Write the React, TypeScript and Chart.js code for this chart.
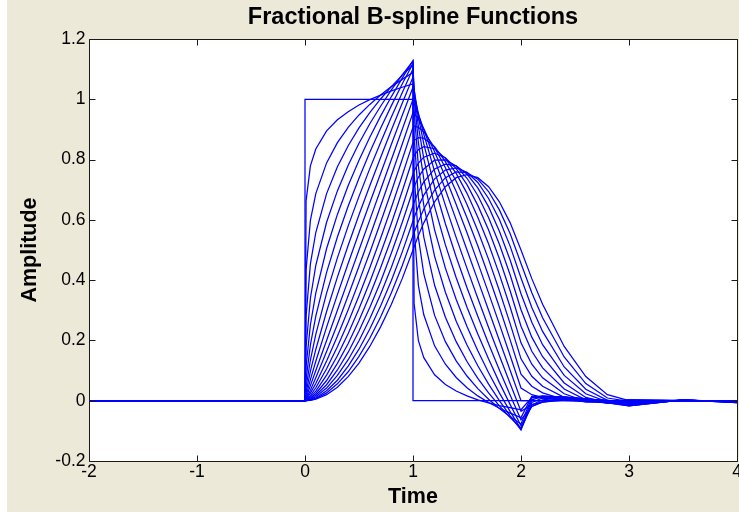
import React, { useEffect, useRef } from 'react';
import { Chart, registerables } from 'chart.js';

Chart.register(...registerables);

// Sample times shared by the fractional B-spline curves
const TIMES = [-2, 0, 0.01, 0.05, 0.1, 0.2, 0.3, 0.4, 0.5, 0.6, 0.7, 0.8, 0.9, 1.0, 1.01, 1.05, 1.1, 1.2, 1.3, 1.4, 1.5, 1.6, 1.7, 1.8, 1.9, 2.0, 2.1, 2.2, 2.4, 2.6, 2.8, 3.0, 3.5, 4.0];

// Degree 0 (box) curve
const BOX_TIMES = [-2, 0, 0, 1, 1, 4];
const BOX_VALUES = [0, 0, 1, 1, 0, 0];

// Degrees 0.1 ... 2.0
const alpha01 = [0, 0, 0.663, 0.779, 0.835, 0.895, 0.932, 0.959, 0.981, 0.999, 1.014, 1.028, 1.040, 1.051, 0.323, 0.199, 0.143, 0.086, 0.054, 0.032, 0.016, 0.003, -0.007, -0.016, -0.023, -0.030, 0.011, 0.009, 0.004, 0.000, -0.005, -0.008, 0.001, -0.003];
const alpha02 = [0, 0, 0.434, 0.598, 0.687, 0.789, 0.856, 0.907, 0.948, 0.983, 1.014, 1.042, 1.066, 1.089, 0.571, 0.382, 0.285, 0.182, 0.121, 0.077, 0.043, 0.016, -0.006, -0.025, -0.041, -0.056, 0.014, 0.014, 0.008, 0.001, -0.007, -0.014, 0.002, -0.005];
const alpha03 = [0, 0, 0.280, 0.454, 0.558, 0.687, 0.776, 0.846, 0.905, 0.956, 1.001, 1.042, 1.080, 1.114, 0.754, 0.541, 0.421, 0.283, 0.196, 0.132, 0.082, 0.040, 0.005, -0.026, -0.053, -0.077, 0.010, 0.016, 0.012, 0.003, -0.007, -0.017, 0.003, -0.006];
const alpha04 = [0, 0, 0.179, 0.340, 0.449, 0.592, 0.696, 0.781, 0.854, 0.919, 0.977, 1.031, 1.081, 1.127, 0.882, 0.673, 0.543, 0.383, 0.277, 0.196, 0.130, 0.074, 0.026, -0.017, -0.056, -0.091, 0.003, 0.014, 0.013, 0.005, -0.006, -0.017, 0.003, -0.006];
const alpha05 = [0, 0, 0.113, 0.252, 0.357, 0.505, 0.618, 0.714, 0.798, 0.874, 0.944, 1.009, 1.070, 1.128, 0.965, 0.778, 0.648, 0.479, 0.360, 0.264, 0.185, 0.116, 0.055, 0.000, -0.050, -0.097, -0.006, 0.009, 0.013, 0.006, -0.004, -0.016, 0.003, -0.006];
const alpha06 = [0, 0, 0.071, 0.185, 0.281, 0.426, 0.543, 0.646, 0.738, 0.824, 0.904, 0.979, 1.051, 1.119, 1.013, 0.856, 0.735, 0.567, 0.440, 0.336, 0.246, 0.166, 0.093, 0.026, -0.036, -0.094, -0.014, 0.003, 0.011, 0.007, -0.002, -0.013, 0.003, -0.005];
const alpha07 = [0, 0, 0.044, 0.135, 0.220, 0.357, 0.474, 0.580, 0.678, 0.770, 0.857, 0.941, 1.022, 1.101, 1.034, 0.909, 0.803, 0.644, 0.517, 0.408, 0.310, 0.221, 0.138, 0.060, -0.013, -0.083, -0.019, -0.002, 0.008, 0.006, 0.000, -0.010, 0.002, -0.004];
const alpha08 = [0, 0, 0.027, 0.098, 0.170, 0.296, 0.410, 0.516, 0.617, 0.713, 0.807, 0.898, 0.987, 1.074, 1.034, 0.941, 0.852, 0.709, 0.587, 0.477, 0.375, 0.280, 0.189, 0.102, 0.018, -0.063, -0.019, -0.005, 0.005, 0.005, 0.001, -0.006, 0.002, -0.003];
const alpha09 = [0, 0, 0.016, 0.070, 0.131, 0.244, 0.352, 0.456, 0.557, 0.657, 0.754, 0.851, 0.946, 1.040, 1.018, 0.953, 0.884, 0.761, 0.648, 0.541, 0.439, 0.340, 0.243, 0.149, 0.056, -0.035, -0.013, -0.005, 0.002, 0.003, 0.001, -0.003, 0.001, -0.001];
const alpha10 = [0, 0, 0.01, 0.05, 0.1, 0.2, 0.3, 0.4, 0.5, 0.6, 0.7, 0.8, 0.9, 1.0, 0.99, 0.95, 0.9, 0.8, 0.7, 0.6, 0.5, 0.4, 0.3, 0.2, 0.1, 0, 0, 0, 0, 0, 0, 0, 0, 0];
const alpha11 = [0, 0, 0.006, 0.035, 0.076, 0.163, 0.254, 0.349, 0.446, 0.545, 0.646, 0.748, 0.851, 0.956, 0.953, 0.934, 0.902, 0.826, 0.742, 0.651, 0.557, 0.458, 0.357, 0.254, 0.149, 0.042, 0.020, 0.010, 0.001, -0.002, -0.002, 0.002, 0, 0];
const alpha12 = [0, 0, 0.004, 0.025, 0.057, 0.132, 0.214, 0.302, 0.395, 0.492, 0.592, 0.694, 0.800, 0.908, 0.911, 0.907, 0.892, 0.840, 0.773, 0.694, 0.607, 0.514, 0.414, 0.310, 0.201, 0.088, 0.048, 0.026, 0.004, -0.004, -0.003, 0.003, 0, 0];
const alpha13 = [0, 0, 0.002, 0.017, 0.043, 0.106, 0.179, 0.260, 0.348, 0.441, 0.539, 0.641, 0.747, 0.857, 0.863, 0.873, 0.871, 0.843, 0.793, 0.728, 0.651, 0.564, 0.469, 0.365, 0.255, 0.139, 0.081, 0.048, 0.011, -0.004, -0.005, 0.002, 0, 0];
const alpha14 = [0, 0, 0.001, 0.012, 0.032, 0.085, 0.149, 0.223, 0.305, 0.394, 0.489, 0.589, 0.695, 0.805, 0.813, 0.833, 0.843, 0.836, 0.804, 0.754, 0.688, 0.609, 0.520, 0.419, 0.310, 0.192, 0.121, 0.076, 0.023, -0.002, -0.007, 0.002, 0, 0];
const alpha15 = [0, 0, 0.001, 0.008, 0.024, 0.067, 0.124, 0.190, 0.266, 0.350, 0.441, 0.538, 0.642, 0.752, 0.762, 0.788, 0.808, 0.821, 0.806, 0.770, 0.717, 0.648, 0.566, 0.471, 0.364, 0.247, 0.164, 0.109, 0.039, 0.003, -0.008, 0.000, 0, 0];
const alpha16 = [0, 0, 0, 0.006, 0.018, 0.053, 0.102, 0.161, 0.231, 0.309, 0.395, 0.490, 0.591, 0.699, 0.710, 0.741, 0.769, 0.798, 0.799, 0.779, 0.738, 0.681, 0.607, 0.519, 0.417, 0.302, 0.211, 0.146, 0.059, 0.011, -0.007, -0.001, 0, 0];
const alpha17 = [0, 0, 0, 0.004, 0.013, 0.042, 0.084, 0.136, 0.199, 0.272, 0.353, 0.443, 0.541, 0.647, 0.658, 0.693, 0.726, 0.769, 0.785, 0.779, 0.752, 0.706, 0.643, 0.562, 0.466, 0.355, 0.260, 0.186, 0.084, 0.023, -0.004, -0.003, 0, 0];
const alpha18 = [0, 0, 0, 0.003, 0.009, 0.033, 0.068, 0.115, 0.171, 0.238, 0.314, 0.399, 0.493, 0.596, 0.607, 0.644, 0.682, 0.736, 0.765, 0.772, 0.758, 0.724, 0.671, 0.601, 0.512, 0.407, 0.309, 0.230, 0.112, 0.038, 0.001, -0.003, 0, 0];
const alpha19 = [0, 0, 0, 0.002, 0.007, 0.026, 0.056, 0.096, 0.147, 0.207, 0.278, 0.358, 0.448, 0.547, 0.557, 0.595, 0.636, 0.699, 0.740, 0.759, 0.757, 0.735, 0.694, 0.633, 0.554, 0.455, 0.358, 0.275, 0.145, 0.057, 0.009, -0.002, 0, 0];
const alpha20 = [0, 0, 0, 0.001, 0.005, 0.02, 0.045, 0.08, 0.125, 0.18, 0.245, 0.32, 0.405, 0.5, 0.51, 0.548, 0.59, 0.66, 0.71, 0.74, 0.75, 0.74, 0.71, 0.66, 0.59, 0.5, 0.405, 0.32, 0.18, 0.08, 0.02, 0, 0, 0];

const CURVES = [alpha01, alpha02, alpha03, alpha04, alpha05, alpha06, alpha07, alpha08, alpha09, alpha10,
  alpha11, alpha12, alpha13, alpha14, alpha15, alpha16, alpha17, alpha18, alpha19, alpha20];

const X_TICKS = [-2, -1, 0, 1, 2, 3, 4];
const X_TICK_LABELS = ['-2', '-1', '0', '1', '2', '3', '4'];
const Y_TICKS = [-0.2, 0, 0.2, 0.4, 0.6, 0.8, 1, 1.2];
const Y_TICK_LABELS = ['-0.2', '0', '0.2', '0.4', '0.6', '0.8', '1', '1.2'];

const TITLE = 'Fractional B-spline Functions';
const X_TITLE = 'Time';
const Y_TITLE = 'Amplitude';

const FONT = "'Liberation Sans', Arial, Helvetica, sans-serif";
const FIG_BG = '#ECE9D8';
const LINE_COLOR = '#0000FF';
const AXIS_COLOR = '#1a1a1a';

const framePlugin = {
  id: 'matlabFrame',
  beforeDraw(chart: any) {
    const { ctx, chartArea: a } = chart;
    ctx.save();
    ctx.fillStyle = FIG_BG;
    ctx.fillRect(7, 0, chart.width - 7, 512);
    ctx.fillStyle = '#FFFFFF';
    ctx.fillRect(a.left, a.top, a.right - a.left, a.bottom - a.top);
    ctx.restore();
  },
  afterDatasetsDraw(chart: any) {
    const { ctx, chartArea: a, scales } = chart;
    const L = Math.round(a.left) + 0.5;
    const R = Math.round(a.right) + 0.5;
    const T = Math.round(a.top) + 0.5;
    const B = Math.round(a.bottom) + 0.5;
    const len = 6;
    ctx.save();
    ctx.strokeStyle = AXIS_COLOR;
    ctx.lineWidth = 1;
    ctx.beginPath();
    ctx.rect(L, T, R - L, B - T);
    X_TICKS.forEach((v) => {
      const x = Math.round(scales.x.getPixelForValue(v)) + 0.5;
      ctx.moveTo(x, B);
      ctx.lineTo(x, B - len);
      ctx.moveTo(x, T);
      ctx.lineTo(x, T + len);
    });
    Y_TICKS.forEach((v) => {
      const y = Math.round(scales.y.getPixelForValue(v)) + 0.5;
      ctx.moveTo(L, y);
      ctx.lineTo(L + len, y);
      ctx.moveTo(R, y);
      ctx.lineTo(R - len, y);
    });
    ctx.stroke();
    ctx.restore();
  },
};

export default function App() {
  const canvasRef = useRef<HTMLCanvasElement | null>(null);

  useEffect(() => {
    const canvas = canvasRef.current;
    if (!canvas) return;

    const lineStyle = {
      borderColor: LINE_COLOR,
      borderWidth: 1.25,
      pointRadius: 0,
      pointHoverRadius: 0,
      tension: 0,
      fill: false,
    };

    const datasets: any[] = [
      {
        label: 'alpha 0',
        data: BOX_TIMES.map((t, i) => ({ x: t, y: BOX_VALUES[i] })),
        ...lineStyle,
      },
      ...CURVES.map((vals, k) => ({
        label: 'alpha ' + ((k + 1) / 10).toFixed(1),
        data: TIMES.map((t, i) => ({ x: t, y: vals[i] })),
        ...lineStyle,
      })),
    ];

    const chart = new Chart(canvas, {
      type: 'line',
      data: { datasets },
      plugins: [framePlugin],
      options: {
        responsive: false,
        animation: false,
        devicePixelRatio: 1,
        layout: { padding: { left: 0, right: 23, top: 0, bottom: 0 } },
        plugins: {
          legend: { display: false },
          tooltip: { enabled: false },
          title: {
            display: true,
            text: TITLE,
            fullSize: false,
            color: '#000',
            font: { family: FONT, size: 23.5, weight: 'bold' },
            padding: { top: 3.8, bottom: 7 },
          },
        },
        scales: {
          x: {
            type: 'linear',
            min: -2,
            max: 4,
            grid: { display: false, drawTicks: false },
            border: { display: false },
            afterBuildTicks: (scale: any) => {
              scale.ticks = X_TICKS.map((v) => ({ value: v }));
            },
            afterFit: (scale: any) => {
              scale.height = 57;
            },
            ticks: {
              autoSkip: false,
              maxRotation: 0,
              padding: 1,
              color: '#000',
              font: { family: FONT, size: 17.5 },
              callback: (v: any) => {
                const i = X_TICKS.indexOf(Number(v));
                return i >= 0 ? X_TICK_LABELS[i] : '';
              },
            },
            title: {
              display: true,
              text: X_TITLE,
              color: '#000',
              font: { family: FONT, size: 21.5, weight: 'bold' },
              padding: { top: 0, bottom: 7.6 },
            },
          },
          y: {
            type: 'linear',
            min: -0.2,
            max: 1.2,
            grid: { display: false, drawTicks: false },
            border: { display: false },
            afterBuildTicks: (scale: any) => {
              scale.ticks = Y_TICKS.map((v) => ({ value: v }));
            },
            afterFit: (scale: any) => {
              scale.width = 89;
            },
            ticks: {
              autoSkip: false,
              padding: 3.5,
              color: '#000',
              font: { family: FONT, size: 17.5 },
              callback: (v: any) => {
                const i = Y_TICKS.findIndex((t) => Math.abs(t - Number(v)) < 1e-9);
                return i >= 0 ? Y_TICK_LABELS[i] : '';
              },
            },
            title: {
              display: true,
              text: Y_TITLE,
              color: '#000',
              font: { family: FONT, size: 21.5, weight: 'bold' },
              padding: { top: 17, bottom: 0 },
            },
          },
        },
      } as any,
    });

    return () => {
      chart.destroy();
    };
  }, []);

  return (
    <div style={{ position: 'absolute', left: 0, top: 0, width: 739, height: 518, overflow: 'hidden', background: '#FFFFFF' }}>
      <canvas ref={canvasRef} width={760} height={518} style={{ width: 760, height: 518, display: 'block' }} />
    </div>
  );
}
